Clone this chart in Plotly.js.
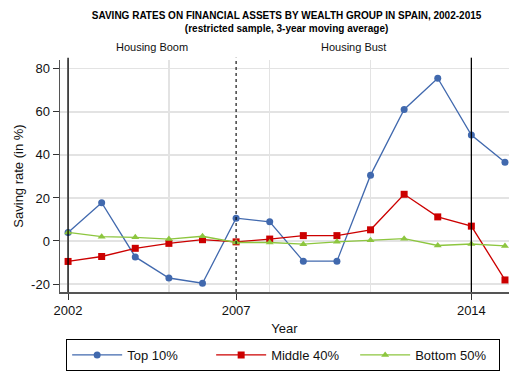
<!DOCTYPE html>
<html>
<head>
<meta charset="utf-8">
<script src="https://cdn.plot.ly/plotly-3.0.1.min.js"></script>
<style>html,body{margin:0;padding:0;background:#fff;}#chart{width:509px;height:371px;}</style>
</head>
<body>
<div id="chart"></div>
<script>
const years = [2002,2003,2004,2005,2006,2007,2008,2009,2010,2011,2012,2013,2014,2015];
const top10 = [4.0,17.8,-7.4,-17.2,-19.6,10.6,8.9,-9.4,-9.4,30.6,61.1,75.6,49.2,36.6];
const middle40 = [-9.5,-7.2,-3.4,-1.1,0.6,-0.4,0.9,2.5,2.5,5.2,21.7,11.2,6.9,-18.1];
const bottom50 = [4.0,2.0,1.7,0.9,2.2,-0.7,-0.7,-1.5,-0.4,0.3,1.1,-2.1,-1.4,-2.3];
const seriesNames = ['Top 10%','Middle 40%','Bottom 50%'];
const xTicks = [2002,2007,2014];
const xGrid = [2002,2005,2008,2011,2014];
const yTicks = [-20,0,20,40,60,80];
const yTickText = ['-20','0','20','40','60','80'];
const periodLabels = ['Housing Boom','Housing Bust'];
const periodBounds = [2002,2007,2014];

const FONT = 'Liberation Sans, Arial, Helvetica, sans-serif';
const colors = ['#4169ae','#cc0000','#8dc63f'];
const symbols = ['circle','square','triangle-up'];
const data = [top10, middle40, bottom50].map((ys,i)=>({
  x: years, y: ys, type:'scatter', mode:'lines+markers', name: seriesNames[i],
  line:{color:colors[i], width:1.3},
  marker:{color:colors[i], symbol:symbols[i], size:7},
  xaxis:'x', yaxis:'y'
}));
data.push({x:[years[0]], y:[0], xaxis:'x2', yaxis:'y', mode:'markers', marker:{opacity:0}, showlegend:false, hoverinfo:'skip'});

const xr = [2001.76, 2015.12];
const layout = {
  width:509, height:371,
  margin:{l:60, r:0, t:60, b:77},
  paper_bgcolor:'#fff', plot_bgcolor:'#fff',
  font:{family:FONT, size:13, color:'#111'},
  title:{text:'<b>SAVING RATES ON FINANCIAL ASSETS BY WEALTH GROUP IN SPAIN, 2002-2015</b><br><b>(restricted sample, 3-year moving average)</b>',
    font:{size:10, family:FONT, color:'#000'}, x:0.563, xanchor:'center', xref:'container', yref:'container', y:0.95, yanchor:'middle'},
  xaxis:{range:xr, tickvals:xTicks, ticktext:xTicks.map(String), showgrid:false, zeroline:false,
    showline:true, linecolor:'#555', linewidth:1.5, ticks:'outside', ticklen:6, tickcolor:'#333', tickwidth:1,
    title:{text:'Year', font:{size:13}, standoff:7}, tickfont:{size:13}},
  xaxis2:{range:xr, overlaying:'x', tickvals:xGrid, showgrid:true, gridcolor:'#e3e3e3', gridwidth:1.3,
    showticklabels:false, ticks:'', zeroline:false, showline:false, layer:'below traces'},
  yaxis:{range:[-23.7,84.1], tickvals:yTicks, ticktext:yTickText, showgrid:true, gridcolor:'#e3e3e3', gridwidth:1.3, zeroline:false,
    showline:true, linecolor:'#555', linewidth:1.5, ticks:'outside', ticklen:6, tickcolor:'#333',
    title:{text:'Saving rate (in %)', font:{size:13}, standoff:4}, tickfont:{size:13}},
  shapes:[
    {type:'line', xref:'x', yref:'paper', x0:periodBounds[0], x1:periodBounds[0], y0:0, y1:1.01, line:{color:'#000', width:1.3}},
    {type:'line', xref:'x', yref:'paper', x0:periodBounds[1], x1:periodBounds[1], y0:0, y1:1.01, line:{color:'#000', width:1.1, dash:'3px,3px'}},
    {type:'line', xref:'x', yref:'paper', x0:periodBounds[2], x1:periodBounds[2], y0:0, y1:1.01, line:{color:'#000', width:1.3}}
  ],
  annotations:[
    {text:periodLabels[0], xref:'x', yref:'paper', x:(periodBounds[0]+periodBounds[1])/2, y:1.02, yanchor:'bottom', showarrow:false, font:{size:11, color:'#111'}},
    {text:periodLabels[1], xref:'x', yref:'paper', x:(periodBounds[1]+periodBounds[2])/2, y:1.02, yanchor:'bottom', showarrow:false, font:{size:11, color:'#111'}}
  ],
  legend:{orientation:'h', x:0.497, xanchor:'center', y:-0.205, yanchor:'top', bordercolor:'#000', borderwidth:1,
    font:{size:13}, itemwidth:50, entrywidth:79, entrywidthmode:'pixels', tracegroupgap:0, bgcolor:'#fff'},
  showlegend:true
};
Plotly.newPlot('chart', data, layout, {staticPlot:true, displayModeBar:false});
</script>
</body>
</html>
